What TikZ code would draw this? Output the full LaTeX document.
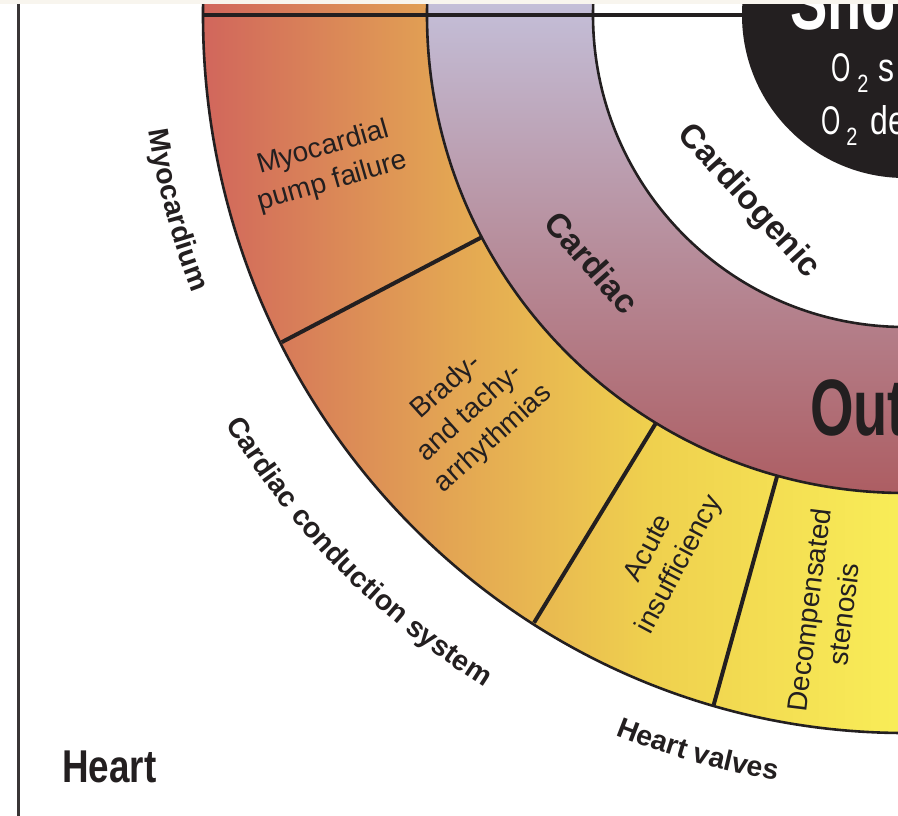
\documentclass[tikz,border=0pt]{standalone}
\usepackage{fontspec}
\setmainfont{Liberation Sans}
\newfontfamily\condA[FakeStretch=0.62]{Liberation Sans}
\newfontfamily\condB[FakeStretch=0.70]{Liberation Sans}
\newfontfamily\condC[FakeStretch=0.80]{Liberation Sans}
\usetikzlibrary{decorations.text,calc}
\definecolor{ink}{HTML}{231F20}
\definecolor{cream}{HTML}{F8F5EE}
\definecolor{ringA}{HTML}{D1665C}
\definecolor{ringB}{HTML}{E3A553}
\definecolor{ringC}{HTML}{EFD04E}
\definecolor{ringD}{HTML}{F9EE58}
\definecolor{lav}{HTML}{C4C0DA}
\definecolor{rose}{HTML}{B78E9C}
\definecolor{maroon}{HTML}{AD5D62}
\pgfdeclarehorizontalshading{outershade}{100bp}{color(0bp)=(ringA); color(25bp)=(ringA); color(42.5bp)=(ringB); color(56.5bp)=(ringC); color(75bp)=(ringD); color(100bp)=(ringD)}
\pgfdeclareverticalshading{midshade}{100bp}{color(0bp)=(maroon); color(25bp)=(maroon); color(50bp)=(rose); color(75bp)=(lav); color(100bp)=(lav)}
\begin{document}
\begin{tikzpicture}[x=1pt,y=-1pt,line join=round,
  ringline/.style={draw=ink,line width=2.6pt},
  divline/.style={draw=ink,line width=4pt},
  seglabel/.style={text=ink,font=\fontsize{28}{35}\selectfont,align=center,inner sep=0pt},
  boldlabel/.style={text=ink,font=\bfseries\fontsize{33.5}{34}\selectfont,inner sep=0pt,text depth=0pt},
  outerlabel/.style={decorate,decoration={text along path,text align=center,
    text={|\bfseries\fontsize{28.5}{29}\selectfont\color{ink}|#1}}}]
\useasboundingbox (0,0) rectangle (898,816);
\begin{scope}
\clip (0,0) rectangle (898,816);
\fill[white] (0,0) rectangle (898,816);
\coordinate (C) at (905,15);
% outer ring
\begin{scope}
\clip (C) ellipse [x radius=702, y radius=718];
\shade[shading=outershade] (203,-5) rectangle (910,740);
\end{scope}
% middle ring
\begin{scope}
\clip (C) circle [radius=478];
\shade[shading=midshade] (420,-5) rectangle (910,495);
\end{scope}
\fill[white] (C) circle [radius=312];
\fill[ink] (C) circle [radius=163];
% outlines
\draw[ringline] (C) ellipse [x radius=702, y radius=718];
\draw[ringline] (C) circle [radius=478];
\draw[ringline] (C) circle [radius=312];
% dividers
\coordinate (h1) at ($(C)+(180:702)$);
\coordinate (h2) at ($(C)+(180:163)$);
\draw[draw=ink,line width=3.5pt] (h1) -- (h2);
\coordinate (d1i) at ($(C)+(152.3:478)$);
\coordinate (d1o) at ($(C)+(152.3:704)$);
\coordinate (d2i) at ($(C)+(121.4:478)$);
\coordinate (d2o) at ($(C)+(121.4:712)$);
\coordinate (d3i) at ($(C)+(105.5:478)$);
\coordinate (d3o) at ($(C)+(105.5:716)$);
\draw[divline] (d1i) -- (d1o);
\draw[divline] (d2i) -- (d2o);
\draw[divline] (d3i) -- (d3o);
% segment labels
\node[seglabel,rotate=16] (myo) at (328,165) {Myocardial\\pump failure};
\node[seglabel,rotate=42] (brady) at (470,413) {Brady-\\and tachy-\\arrhythmias};
\node[seglabel,rotate=62] (acute) at (665,557) {Acute\\insufficiency};
\node[seglabel,rotate=83] (decomp) at (826,612) {Decompensated\\stenosis};
% ring labels
\node[boldlabel,rotate=-47.8] (cardiogenic) at (751,199) {Cardiogenic};
\node[boldlabel,rotate=-48.5] (cardiac) at (592,262) {Cardiac};
% centre texts
\node[anchor=base west,inner sep=0pt,text=white,font=\condB\bfseries\fontsize{80}{80}\selectfont] (shock) at (790,30) {Sho};
\node[anchor=base west,inner sep=0pt,text=white,font=\fontsize{40}{40}\selectfont] (o2a) at (831,82) {{\condA O}\kern7pt\raisebox{-11pt}{\condC\fontsize{25}{25}\selectfont 2}\kern10pt{\condC s}};
\node[anchor=base west,inner sep=0pt,text=white,font=\fontsize{40}{40}\selectfont] (o2b) at (821,135) {{\condA O}\kern6pt\raisebox{-11pt}{\condC\fontsize{25}{25}\selectfont 2}\kern13pt{\condC de}};
\node[anchor=base west,inner sep=0pt,text=ink,font=\condB\bfseries\fontsize{80}{80}\selectfont] (out) at (810,435) {Out};
% outer curved labels
\path[outerlabel=Myocardium] (C) ++(180:765) arc[start angle=180,end angle=150,radius=765];
\path[outerlabel=Cardiac conduction system] (C) ++(160:793) arc[start angle=160,end angle=111,radius=793];
\path[outerlabel=Heart valves] (C) ++(125:776) arc[start angle=125,end angle=86.4,radius=776];
% frame bits
\node[anchor=base west,inner sep=0pt,text=ink,font=\condC\bfseries\fontsize{46}{46}\selectfont] (heart) at (62,782) {Heart};
\fill[cream] (0,0) rectangle (898,4);
\coordinate (vt) at (18,4);
\coordinate (vb) at (18,816);
\draw[draw=ink!90,line width=3pt] (vt) -- (vb);
\end{scope}
\end{tikzpicture}
\end{document}
